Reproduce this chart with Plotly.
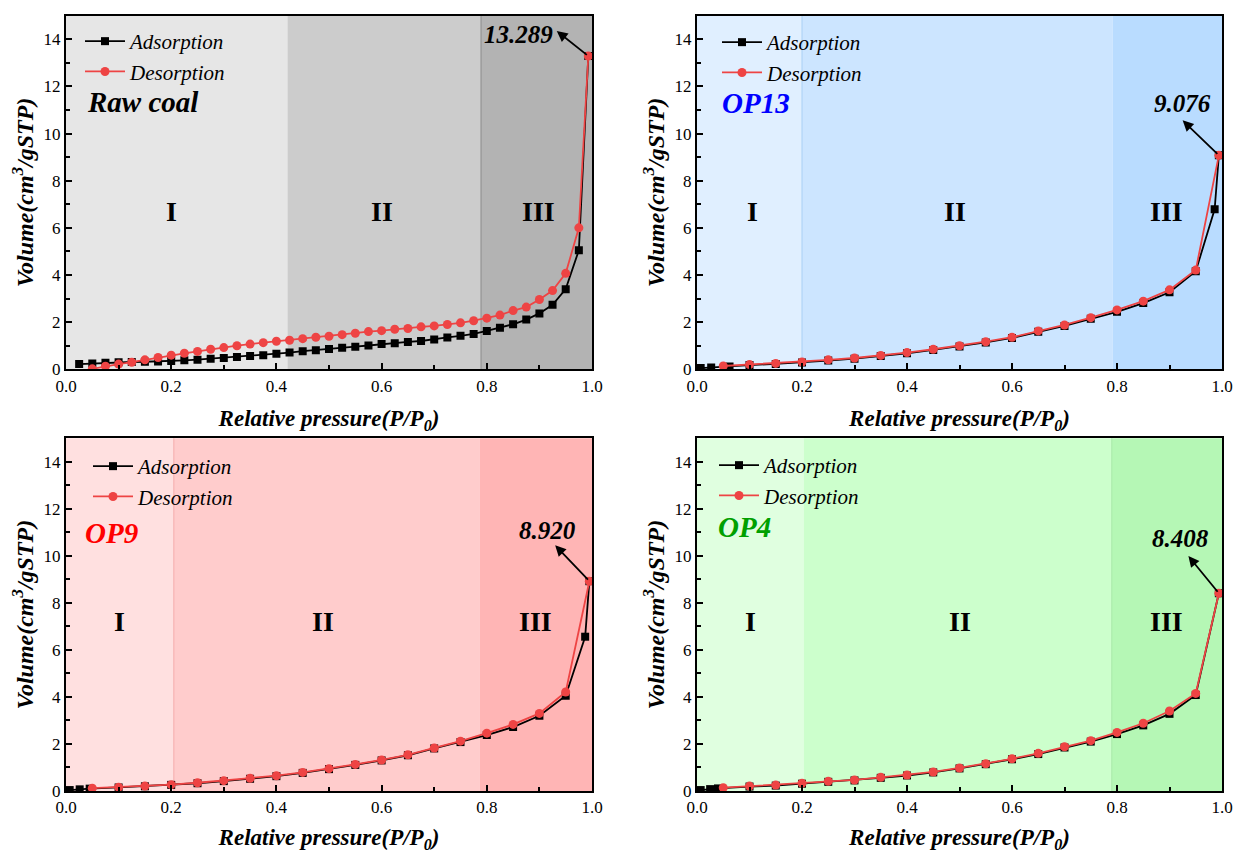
import plotly.graph_objects as go

# ---------------- data ----------------
raw_ads_x = [0.025, 0.05, 0.075, 0.1, 0.125, 0.15, 0.175, 0.2, 0.225, 0.25, 0.275, 0.3, 0.325, 0.35,
             0.375, 0.4, 0.425, 0.45, 0.475, 0.5, 0.525, 0.55, 0.575, 0.6, 0.625, 0.65, 0.675, 0.7,
             0.725, 0.75, 0.775, 0.8, 0.825, 0.85, 0.875, 0.9, 0.925, 0.95, 0.975, 0.993]
raw_ads_y = [0.22, 0.25, 0.28, 0.30, 0.31, 0.32, 0.33, 0.35, 0.38, 0.41, 0.45, 0.48, 0.52, 0.56,
             0.60, 0.66, 0.71, 0.77, 0.81, 0.86, 0.91, 0.96, 1.01, 1.07, 1.10, 1.16, 1.20, 1.26,
             1.35, 1.42, 1.50, 1.63, 1.76, 1.91, 2.11, 2.37, 2.74, 3.40, 5.05, 13.289]
raw_des_x = [0.05, 0.075, 0.1, 0.125, 0.15, 0.175, 0.2, 0.225, 0.25, 0.275, 0.3, 0.325, 0.35,
             0.375, 0.4, 0.425, 0.45, 0.475, 0.5, 0.525, 0.55, 0.575, 0.6, 0.625, 0.65, 0.675, 0.7,
             0.725, 0.75, 0.775, 0.8, 0.825, 0.85, 0.875, 0.9, 0.925, 0.95, 0.975, 0.993]
raw_des_y = [0.02, 0.13, 0.22, 0.30, 0.40, 0.50, 0.60, 0.68, 0.76, 0.85, 0.92, 1.00, 1.07,
             1.13, 1.19, 1.23, 1.30, 1.36, 1.40, 1.47, 1.53, 1.60, 1.64, 1.70, 1.73, 1.80, 1.84,
             1.90, 1.97, 2.06, 2.17, 2.30, 2.49, 2.64, 2.96, 3.34, 4.07, 6.00, 13.289]

op13_ads_x = [0.007, 0.027, 0.062, 0.1, 0.15, 0.2, 0.25, 0.3, 0.35, 0.4, 0.45, 0.5, 0.55,
              0.6, 0.65, 0.7, 0.75, 0.8, 0.85, 0.9, 0.95, 0.986, 0.994]
op13_ads_y = [0.05, 0.08, 0.12, 0.18, 0.23, 0.29, 0.37, 0.45, 0.56, 0.68, 0.82, 0.97, 1.14,
              1.33, 1.59, 1.84, 2.14, 2.44, 2.81, 3.27, 4.16, 6.79, 9.076]
op13_des_x = [0.05, 0.1, 0.15, 0.2, 0.25, 0.3, 0.35, 0.4, 0.45, 0.5, 0.55, 0.6, 0.65, 0.7,
              0.75, 0.8, 0.85, 0.9, 0.95, 0.994]
op13_des_y = [0.14, 0.20, 0.25, 0.31, 0.40, 0.48, 0.59, 0.71, 0.85, 1.00, 1.17, 1.36, 1.63,
              1.88, 2.19, 2.52, 2.89, 3.37, 4.21, 9.076]

op9_ads_x = [0.007, 0.026, 0.045, 0.1, 0.15, 0.2, 0.25, 0.3, 0.35, 0.4, 0.45, 0.5, 0.55,
             0.6, 0.65, 0.7, 0.75, 0.8, 0.85, 0.9, 0.95, 0.987, 0.995]
op9_ads_y = [0.04, 0.07, 0.10, 0.15, 0.20, 0.26, 0.33, 0.42, 0.52, 0.63, 0.77, 0.93, 1.11,
             1.30, 1.52, 1.81, 2.08, 2.38, 2.72, 3.20, 4.05, 6.56, 8.920]
op9_des_x = [0.05, 0.1, 0.15, 0.2, 0.25, 0.3, 0.35, 0.4, 0.45, 0.5, 0.55, 0.6, 0.65, 0.7,
             0.75, 0.8, 0.85, 0.9, 0.95, 0.995]
op9_des_y = [0.12, 0.16, 0.21, 0.27, 0.35, 0.44, 0.54, 0.65, 0.79, 0.95, 1.13, 1.32, 1.54,
             1.83, 2.12, 2.46, 2.83, 3.30, 4.21, 8.920]

op4_ads_x = [0.007, 0.025, 0.04, 0.1, 0.15, 0.2, 0.25, 0.3, 0.35, 0.4, 0.45, 0.5, 0.55,
             0.6, 0.65, 0.7, 0.75, 0.8, 0.85, 0.9, 0.95, 0.994]
op4_ads_y = [0.04, 0.08, 0.11, 0.19, 0.23, 0.31, 0.39, 0.45, 0.56, 0.66, 0.79, 0.96, 1.14,
             1.35, 1.57, 1.85, 2.10, 2.42, 2.79, 3.28, 4.08, 8.408]
op4_des_x = [0.05, 0.1, 0.15, 0.2, 0.25, 0.3, 0.35, 0.4, 0.45, 0.5, 0.55, 0.6, 0.65, 0.7,
             0.75, 0.8, 0.85, 0.9, 0.95, 0.994]
op4_des_y = [0.14, 0.21, 0.25, 0.33, 0.41, 0.47, 0.58, 0.68, 0.81, 0.98, 1.16, 1.37, 1.60,
             1.88, 2.14, 2.49, 2.88, 3.40, 4.15, 8.408]

sample_names = ["Raw coal", "OP13", "OP9", "OP4"]
sample_colors = ["#000000", "#0000FF", "#FF0000", "#00A000"]
peak_labels = ["13.289", "9.076", "8.920", "8.408"]
region_names = ["I", "II", "III"]
series_names = ["Adsorption", "Desorption"]

# region boundaries (x) and fill colours per panel
region_bounds = [[0.0, 0.421, 0.789, 1.0],
                 [0.0, 0.200, 0.792, 1.0],
                 [0.0, 0.205, 0.787, 1.0],
                 [0.0, 0.203, 0.790, 1.0]]
region_fills = [["#E6E6E6", "#CCCCCC", "#B3B3B3"],
                ["#E0EFFF", "#CCE5FF", "#B9DCFF"],
                ["#FFE0E0", "#FFCCCC", "#FFB5B5"],
                ["#E0FFE0", "#CCFFCC", "#B5F7B5"]]
divider = [(0.789, "#8C8C8C"), (0.200, "#A9D0F5"), (0.205, "#F5AAAA"), (0.790, "#A8E8A8")]

region_label_x = [[0.200, 0.600, 0.898], [0.106, 0.491, 0.895],
                  [0.101, 0.488, 0.893], [0.102, 0.500, 0.895]]
region_label_y = [6.7, 6.7, 7.22, 7.2]
sample_label_pos = [(0.147, 11.34), (0.113, 11.30), (0.086, 10.95), (0.091, 11.23)]
peak_text_pos = [(0.861, 14.2), (0.924, 11.27), (0.916, 11.09), (0.920, 10.74)]
arrow_head = [(0.933, 14.35), (0.925, 10.56), (0.930, 10.45), (0.936, 9.99)]
arrow_tail = [(0.993, 13.289), (0.994, 9.076), (0.995, 8.920), (0.994, 8.408)]

panels = [(raw_ads_x, raw_ads_y, raw_des_x, raw_des_y),
          (op13_ads_x, op13_ads_y, op13_des_x, op13_des_y),
          (op9_ads_x, op9_ads_y, op9_des_x, op9_des_y),
          (op4_ads_x, op4_ads_y, op4_des_x, op4_des_y)]

# ---------------- layout geometry ----------------
W, H = 1234, 853
FONT = "Liberation Serif"
xdom = [[66 / W, 592 / W], [697 / W, 1222 / W], [66 / W, 592 / W], [697 / W, 1222 / W]]
ydom = [[1 - 369.3 / H, 1 - 15.7 / H], [1 - 369.3 / H, 1 - 15.7 / H],
        [1 - 791 / H, 1 - 438.2 / H], [1 - 791 / H, 1 - 438.2 / H]]
legend_pos = [(80, 21), (717, 22), (88, 446), (714, 445)]

RED = "#EE4444"
fig = go.Figure()
layout = dict(template="none", width=W, height=H, margin=dict(l=0, r=0, t=0, b=0, autoexpand=False),
              paper_bgcolor="white", plot_bgcolor="white",
              font=dict(family=FONT, color="black"))
shapes, annotations = [], []

for i, (ax_, ay_, dx_, dy_) in enumerate(panels):
    n = i + 1
    xa = "x" if n == 1 else f"x{n}"
    ya = "y" if n == 1 else f"y{n}"
    lg = "legend" if n == 1 else f"legend{n}"
    fig.add_trace(go.Scatter(x=ax_, y=ay_, mode="lines+markers", name=series_names[0],
                             xaxis=xa, yaxis=ya, legend=lg,
                             line=dict(color="black", width=1.8),
                             marker=dict(symbol="square", size=8, color="black")))
    fig.add_trace(go.Scatter(x=dx_, y=dy_, mode="lines+markers", name=series_names[1],
                             xaxis=xa, yaxis=ya, legend=lg,
                             line=dict(color=RED, width=1.8),
                             marker=dict(symbol="circle", size=9, color=RED)))
    axis_common = dict(showline=True, linewidth=2, linecolor="black", mirror=True,
                       ticks="inside", tickwidth=1.5, ticklen=6, tickcolor="black",
                       showgrid=False, zeroline=False, automargin=False,
                       tickfont=dict(family=FONT, size=17, color="black"))
    layout["xaxis" if n == 1 else f"xaxis{n}"] = dict(
        axis_common, domain=xdom[i], anchor=ya, range=[0, 1], dtick=0.2, tick0=0,
        tickformat=".1f",
        minor=dict(dtick=0.1, ticks="inside", ticklen=4, tickwidth=1.5, tickcolor="black"),
        title=dict(text="<b><i>Relative pressure(P/P<sub>0</sub>)</i></b>",
                   font=dict(family=FONT, size=23, color="black"), standoff=15))
    layout["yaxis" if n == 1 else f"yaxis{n}"] = dict(
        axis_common, domain=ydom[i], anchor=xa, range=[0, 15], dtick=2, tick0=0,
        minor=dict(dtick=1, ticks="inside", ticklen=4, tickwidth=1.5, tickcolor="black"),
        title=dict(text="<b><i>Volume(cm<sup>3</sup>/gSTP)</i></b>",
                   font=dict(family=FONT, size=24, color="black"), standoff=3))
    lx, ly = legend_pos[i]
    layout[lg] = dict(x=lx / W, y=1 - ly / H, xanchor="left", yanchor="top",
                      bgcolor="rgba(0,0,0,0)", borderwidth=0,
                      font=dict(family=FONT, size=21, color="black", style="italic"),
                      itemwidth=40, tracegroupgap=0)
    # background regions
    b = region_bounds[i]
    for k in range(3):
        shapes.append(dict(type="rect", xref=xa, yref=f"{ya} domain", x0=b[k], x1=b[k + 1],
                           y0=0, y1=1, fillcolor=region_fills[i][k], line=dict(width=0),
                           layer="below"))
    dvx, dvc = divider[i]
    shapes.append(dict(type="line", xref=xa, yref=f"{ya} domain", x0=dvx, x1=dvx, y0=0, y1=1,
                       line=dict(color=dvc, width=1), layer="below"))
    # region labels
    for k in range(3):
        annotations.append(dict(xref=xa, yref=ya, x=region_label_x[i][k], y=region_label_y[i],
                                text=f"<b>{region_names[k]}</b>", showarrow=False,
                                font=dict(family=FONT, size=28, color="black")))
    # sample label
    sx, sy = sample_label_pos[i]
    annotations.append(dict(xref=xa, yref=ya, x=sx, y=sy,
                            text=f"<b><i>{sample_names[i]}</i></b>", showarrow=False,
                            font=dict(family=FONT, size=29, color=sample_colors[i])))
    # peak value text and arrow
    tx, ty = peak_text_pos[i]
    annotations.append(dict(xref=xa, yref=ya, x=tx, y=ty,
                            text=f"<b><i>{peak_labels[i]}</i></b>", showarrow=False,
                            font=dict(family=FONT, size=25, color="black")))
    hx, hy = arrow_head[i]
    tlx, tly = arrow_tail[i]
    annotations.append(dict(xref=xa, yref=ya, x=hx, y=hy, axref=xa, ayref=ya, ax=tlx, ay=tly,
                            text="", showarrow=True, arrowhead=2, arrowsize=1.2,
                            arrowwidth=1.8, arrowcolor="black"))

layout["shapes"] = shapes
layout["annotations"] = annotations
fig.update_layout(**layout)
fig.write_html("out.html")
